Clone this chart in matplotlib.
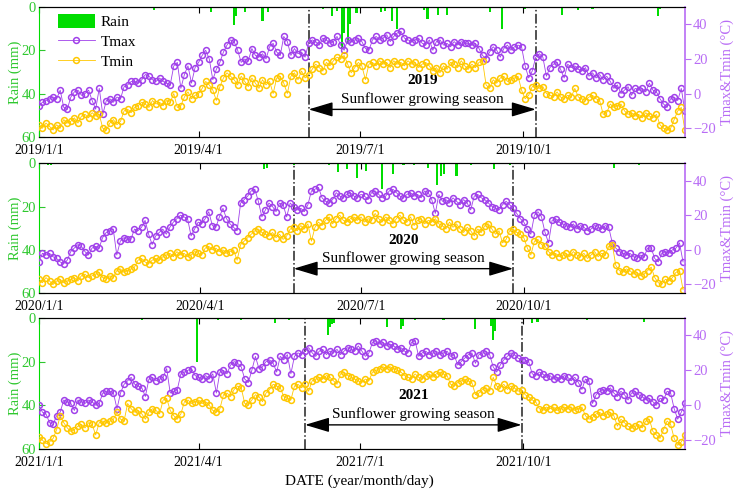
"""
Daily rain and air temperature (Tmax / Tmin) for 2019-2021,
one panel per year, with the sunflower growing season marked.
Temperatures were read every second day off the source figure.
"""

import matplotlib
matplotlib.use("Agg")
import matplotlib.pyplot as plt
import numpy as np
import pandas as pd

plt.rcParams["font.family"] = ["Liberation Serif", "DejaVu Serif"]
plt.rcParams["font.size"] = 10

GREEN = "#00dd00"
GREEN_TXT = "#2ec82e"
PURPLE = "#a040ea"
PURPLE_AX = "#b86cf5"
GOLD = "#ffc800"

YEARS = [2019, 2020, 2021]
STEP_DAYS = 2

TMAX_2019 = [
    -7, -5, -4, -3, -2, -3, 2, -8, -9, -2, 1, 2, -1, 0, 2, -4, -9, 3, -12, -4,
    -3, -5, -2, -3, 4, 5, 7, 7, 6, 8, 11, 10, 8, 7, 9, 7, 6, 5, 16, 18,
    3, 11, 16, 6, 15, 18, 22, 25, 20, 8, 14, 18, 24, 28, 31, 30, 25, 18, 20, 19,
    26, 22, 21, 23, 20, 27, 29, 24, 22, 33, 30, 22, 26, 23, 24, 21, 29, 31, 30, 28,
    32, 31, 29, 30, 33, 28, 25, 31, 30, 31, 32, 30, 26, 25, 31, 33, 31, 32, 34, 30,
    33, 35, 36, 32, 31, 30, 31, 32, 29, 28, 31, 25, 30, 31, 28, 29, 27, 30, 28, 30,
    29, 29, 28, 29, 26, 22, 20, 24, 27, 25, 21, 26, 28, 25, 27, 28, 27, 16, 9, 13,
    21, 23, 21, 10, 15, 17, 18, 14, 9, 17, 15, 16, 14, 13, 15, 10, 12, 9, 11, 8,
    10, 7, 3, 5, 0, 2, 4, -1, 3, 2, 3, 1, 6, 2, 1, -3, -6, -8, -3, -2,
    -4, 3, -10,
]
TMIN_2019 = [
    -18, -20, -17, -19, -21, -18, -20, -15, -17, -16, -14, -17, -13, -12, -14, -11, -13, -12, -20, -21,
    -17, -15, -18, -16, -10, -9, -11, -8, -7, -5, -6, -8, -4, -6, -5, -7, -4, -5, 0, -8,
    -7, -2, 1, -3, -1, 0, 3, 7, 5, 2, -4, 4, 9, 12, 10, 8, 5, 10, 7, 4,
    9, 6, 3, 8, 5, 7, 0, 9, 10, 6, 0, 10, 12, 8, 13, 9, 11, 14, 17, 15,
    13, 18, 16, 19, 21, 20, 22, 17, 12, 15, 18, 16, 8, 17, 18, 16, 19, 17, 18, 15,
    19, 17, 18, 16, 19, 17, 18, 15, 17, 18, 16, 13, 15, 12, 16, 14, 18, 17, 15, 19,
    16, 14, 17, 15, 18, 19, 5, 3, 8, 6, 9, 10, 7, 8, 9, 10, 2, -3, -1, 4,
    5, 3, 4, 0, -1, -2, 1, -2, -3, -1, -2, 3, -2, -3, -4, -2, -1, -3, -4, -12,
    -11, -6, -8, -7, -6, -10, -12, -11, -13, -12, -14, -11, -13, -14, -12, -18, -20, -21, -20, -15,
    -10, -8, -21,
]
RAIN_DAY_2019 = [65, 97, 110, 111, 116, 126, 129, 160, 165, 168, 171, 172, 174, 175, 179,
                 193, 195, 199, 202, 217, 219, 225, 230, 254, 261, 274, 295, 304, 312, 349, 350]
RAIN_MM_2019 = [1.5, 2.5, 8.5, 4, 2.5, 6.5, 2.5, 1, 4, 2, 19, 12, 17, 8, 3,
                2.5, 2, 6.5, 10, 1.5, 5.5, 3.5, 3.5, 2.5, 10, 1, 3.5, 1.5, 1, 4, 1]

TMAX_2020 = [
    -7, -2, -3, -2, -4, -5, -7, -8, -6, -1, 1, 3, 2, -1, -3, 1, 2, 1, 7, 10,
    11, 12, -3, 5, 7, 6, 6, 12, 11, 13, 17, 9, 3, 8, 10, 12, 9, 13, 16, 18,
    20, 19, 18, 8, 12, 16, 15, 18, 22, 14, 13, 19, 24, 18, 15, 13, 11, 27, 29, 31,
    34, 35, 28, 19, 23, 27, 25, 22, 27, 26, 19, 27, 25, 23, 24, 22, 26, 34, 35, 36,
    30, 28, 27, 29, 33, 31, 30, 32, 33, 31, 30, 32, 31, 29, 33, 34, 32, 30, 31, 34,
    35, 33, 31, 30, 32, 33, 31, 32, 30, 34, 33, 29, 21, 32, 28, 29, 27, 30, 28, 26,
    29, 27, 23, 31, 32, 30, 29, 27, 25, 24, 23, 26, 28, 26, 24, 21, 18, 16, 12, 9,
    20, 22, 19, 10, 4, 17, 18, 16, 15, 14, 13, 15, 12, 14, 13, 11, 12, 14, 13, 12,
    14, 13, 4, 1, -1, -2, -3, -2, -4, -5, -3, -4, 1, 1, -5, -7, -2, -1, -2, 0,
    1, 4, -7,
]
TMIN_2020 = [
    -17, -19, -16, -18, -20, -18, -17, -19, -18, -17, -16, -18, -15, -14, -16, -15, -14, -13, -16, -17,
    -15, -16, -12, -11, -13, -12, -11, -10, -6, -5, -7, -8, -6, -5, -6, -4, -3, -2, -4, -1,
    -3, -2, -4, -3, -1, -2, -3, 1, 2, 0, 1, -1, 0, -2, -1, 0, -6, 3, 5, 7,
    9, 11, 12, 10, 9, 8, 10, 7, 9, 6, 8, 12, 13, 11, 14, 12, 15, 5, 13, 16,
    14, 17, 19, 15, 18, 20, 17, 16, 18, 19, 17, 19, 16, 18, 17, 21, 18, 16, 19, 17,
    15, 18, 20, 17, 16, 19, 14, 17, 18, 15, 17, 16, 18, 15, 14, 12, 16, 13, 15, 12,
    10, 13, 11, 8, 12, 10, 14, 15, 12, 9, 11, 4, 6, 11, 12, 10, 9, 7, 1, -3,
    5, 6, 3, 2, -1, -3, -2, -4, -3, -2, -4, -1, -3, -4, -2, -5, -3, -1, -4, -2,
    -3, 2, 3, -9, -12, -13, -11, -12, -14, -13, -15, -14, -12, -10, -16, -19, -20, -17, -18, -16,
    -13, -12, -23,
]
RAIN_DAY_2020 = [5, 7, 127, 129, 144, 164, 169, 174, 180, 185, 194, 200, 206, 212,
                 220, 225, 227, 229, 236, 244, 257, 266, 325, 339]
RAIN_MM_2020 = [1, 1, 2.5, 2, 1, 1, 4, 2.5, 7, 3.5, 12, 5, 1, 1,
                2, 10, 6, 5, 6, 1, 2.5, 1, 2, 1]

TMAX_2021 = [
    0, -4, -5, -10, -11, -6, -4, 3, 2, 1, -3, 3, 2, 1, 3, 2, 0, 1, 7, 8,
    8, 7, -2, 7, 12, 14, 16, 12, 11, 10, 5, 15, 16, 14, 15, 16, 21, 7, 8, 9,
    18, 19, 20, 21, 17, 16, 15, 17, 15, 18, 7, 19, 20, 18, 23, 25, 24, 22, 15, 13,
    20, 28, 21, 22, 25, 26, 24, 19, 28, 26, 29, 18, 28, 30, 29, 31, 33, 30, 28, 31,
    32, 29, 31, 30, 32, 29, 31, 33, 32, 31, 34, 31, 28, 30, 36, 37, 35, 36, 34, 35,
    34, 32, 33, 31, 30, 36, 37, 28, 30, 31, 29, 30, 31, 29, 30, 31, 28, 29, 23, 25,
    27, 29, 30, 24, 29, 30, 31, 29, 22, 19, 23, 26, 28, 30, 29, 27, 26, 26, 25, 18,
    17, 19, 18, 16, 17, 15, 16, 15, 17, 16, 14, 16, 13, 9, 15, 14, 1, 6, 8, 9,
    8, 10, 7, 5, 8, 6, 3, 7, 8, 6, 5, 3, 4, 2, 0, 4, 3, 8, 7, -2,
    -8, -4, 1,
]
TMIN_2021 = [
    -18, -20, -22, -21, -19, -14, -6, -10, -13, -15, -14, -12, -11, -13, -10, -11, -17, -10, -9, -10,
    -9, -8, -4, -8, -9, 1, -2, -4, -3, -5, -8, -4, -2, -3, -5, 3, 4, -3, -6, -8,
    -5, 2, 3, 1, 2, 3, 1, 2, 0, -3, -4, -2, 6, 7, 5, 9, 11, 10, 1, 0,
    3, 6, 5, 2, 7, 9, 12, 11, 10, 5, 4, 3, 11, 12, 10, 12, 8, 14, 15, 16,
    15, 17, 16, 14, 12, 18, 19, 17, 16, 15, 14, 13, 15, 14, 19, 20, 21, 22, 21, 22,
    21, 20, 19, 17, 16, 15, 18, 16, 15, 17, 18, 16, 18, 19, 18, 17, 12, 11, 13, 14,
    15, 14, 13, 6, 7, 9, 10, 8, 16, 11, 10, 12, 9, 11, 10, 8, 9, 6, 5, 3,
    2, -2, -3, -1, -2, -1, -3, -2, -1, -2, -1, -3, -2, -1, -6, -8, -7, -5, -4, -6,
    -5, -4, -6, -12, -8, -10, -12, -13, -12, -11, -13, -9, -8, -15, -17, -19, -14, -9, -11, -19,
    -23, -21, -17,
]
RAIN_DAY_2021 = [58, 89, 101, 114, 133, 141, 163, 164, 165, 166, 196, 204, 205, 212,
                 228, 246, 255, 256, 257, 278, 281, 309, 341]
RAIN_MM_2021 = [1, 20, 1, 1, 2.5, 1, 8, 4, 3, 2.5, 4, 5, 3.5, 1,
                1, 5, 3.5, 10, 6, 2.5, 2, 1, 2]

SEASONS = {
    2019: ("2019-06-02", "2019-10-08"),
    2020: ("2020-05-24", "2020-09-25"),
    2021: ("2021-05-31", "2021-09-30"),
}

DATA = {
    2019: (TMAX_2019, TMIN_2019, RAIN_DAY_2019, RAIN_MM_2019),
    2020: (TMAX_2020, TMIN_2020, RAIN_DAY_2020, RAIN_MM_2020),
    2021: (TMAX_2021, TMIN_2021, RAIN_DAY_2021, RAIN_MM_2021),
}

# axes boxes in figure fraction: left, bottom, width, height
PANEL_BOX = [
    [0.053, 0.724, 0.880, 0.262],
    [0.053, 0.409, 0.880, 0.262],
    [0.053, 0.095, 0.880, 0.264],
]
# rain-axis heights of year label, season text and arrow
TEXT_Y = [(33.8, 42.5, 47.3), (35.5, 44.0, 48.7), (35.7, 44.0, 49.0)]


def to_dates(year, days):
    return pd.Timestamp(f"{year}-01-01") + pd.to_timedelta(np.asarray(days), unit="D")


def draw_panel(fig, box, year, text_y, with_legend):
    tmax, tmin, rain_day, rain_mm = DATA[year]
    ax = fig.add_axes(box)
    ax2 = ax.twinx()

    bars = ax.bar(to_dates(year, rain_day), rain_mm, width=1.2, color=GREEN,
                  align="center", label="Rain")
    ax.set_ylim(60, 0)
    ax.set_yticks([0, 20, 40, 60])
    ax.tick_params(axis="y", colors=GREEN_TXT, direction="in", length=4, pad=2,
                   labelsize=10.5)
    ax.spines["left"].set_color(GREEN)
    ax.spines["right"].set_visible(False)
    ax.set_ylabel("Rain (mm)", color=GREEN_TXT, fontsize=10.5, labelpad=0)

    start = pd.Timestamp(f"{year}-01-01")
    end = pd.Timestamp(f"{year}-12-31")
    ax.set_xlim(start, end)
    ticks = [pd.Timestamp(f"{year}-{m:02d}-01") for m in (1, 4, 7, 10)]
    ax.set_xticks(ticks)
    ax.set_xticklabels([f"{year}/{m}/1" for m in (1, 4, 7, 10)])
    ax.tick_params(axis="x", direction="in", length=4, top=True, pad=5,
                   labelsize=10)

    tdays = np.arange(len(tmax)) * STEP_DAYS
    l1, = ax2.plot(to_dates(year, tdays), tmax, color=PURPLE, lw=0.6, marker="o",
                   ms=4.2, mfc="none", mew=1.1, label="Tmax")
    tdays = np.arange(len(tmin)) * STEP_DAYS
    l2, = ax2.plot(to_dates(year, tdays), tmin, color=GOLD, lw=0.6, marker="o",
                   ms=4.2, mfc="none", mew=1.1, label="Tmin")
    ax2.set_ylim(-25, 50)
    ax2.set_yticks([-20, 0, 20, 40])
    ax2.tick_params(axis="y", colors=PURPLE_AX, direction="out", length=4, pad=2,
                    labelsize=10.5)
    ax2.spines["right"].set_color(PURPLE_AX)
    ax2.spines["right"].set_linewidth(1.2)
    ax2.spines["left"].set_visible(False)
    ax2.set_ylabel("Tmax&Tmin (\u00b0C)", color=PURPLE_AX, fontsize=10.5, labelpad=3)

    s0, s1 = (pd.Timestamp(d) for d in SEASONS[year])
    for d in (s0, s1):
        ax.axvline(d, color="#222222", lw=1.1, ls="-.")
    mid = s0 + (s1 - s0) / 2
    ax.annotate("", xy=(s1, text_y[2]), xytext=(s0, text_y[2]),
                arrowprops=dict(arrowstyle="<|-|>,head_length=1.5,head_width=0.45",
                                mutation_scale=10, color="black", lw=1.0,
                                shrinkA=0, shrinkB=0))
    ax.text(mid, text_y[1], "Sunflower growing season", ha="center", va="center",
            fontsize=11)
    ax.text(mid, text_y[0], str(year), ha="center", va="center", fontsize=11,
            fontweight="bold")

    if with_legend:
        ax2.legend([bars, l1, l2], ["Rain", "Tmax", "Tmin"], loc="upper left",
                   bbox_to_anchor=(0.02, 0.99), frameon=False, handlelength=2.4,
                   handleheight=1.0, labelspacing=0.3, fontsize=11,
                   borderaxespad=0, handletextpad=0.4)
    return ax, ax2


def main():
    fig = plt.figure(figsize=(7.34, 4.96), dpi=100)
    for i, year in enumerate(YEARS):
        draw_panel(fig, PANEL_BOX[i], year, TEXT_Y[i], with_legend=(i == 0))
    fig.text(0.49, 0.03, "DATE (year/month/day)", ha="center", va="center",
             fontsize=11)
    fig.savefig("out.png", dpi=100)


if __name__ == "__main__":
    main()
